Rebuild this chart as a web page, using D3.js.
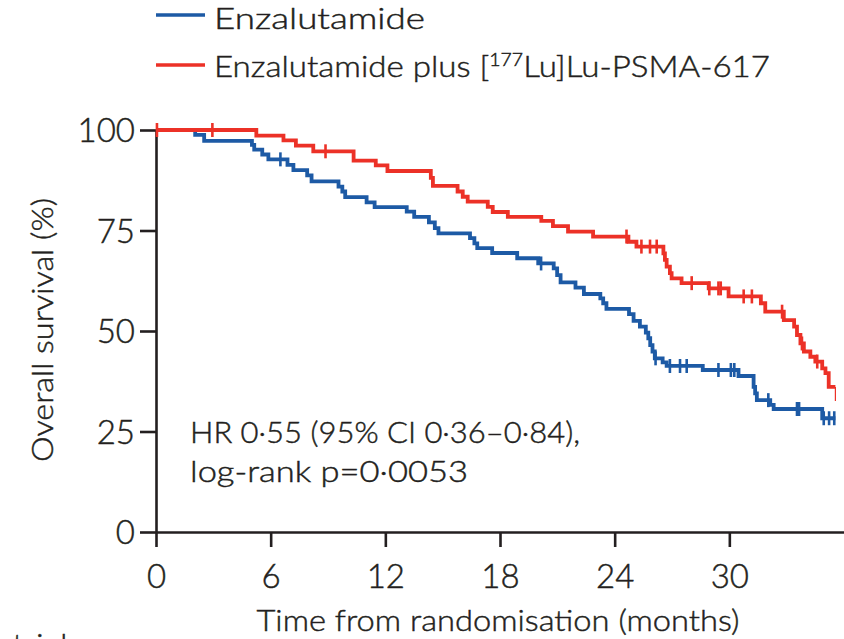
<!DOCTYPE html>
<html>
<head>
<meta charset="utf-8">
<script src="https://cdn.jsdelivr.net/npm/d3@7"></script>
<style>
  body { margin: 0; background: #fff; }
  svg { display: block; }
  text { font-family: Lato, "Open Sans", sans-serif; font-weight: 300; fill: #231f20;
         stroke: #231f20; stroke-width: 0.45px; }
</style>
</head>
<body>
<svg id="chart" width="844" height="639"></svg>
<script>
// Axis ticks
const monthTicks = [0, 6, 12, 18, 24, 30];
const survivalTicks = [0, 25, 50, 75, 100];

// Enzalutamide arm: event times (months) and Kaplan-Meier survival (%) after each event
const enzaMonths = [0, 2.05, 2.52, 5.02, 5.14, 5.56, 5.88, 6.88, 7.19, 7.91, 8.14, 9.55, 9.75, 9.9,
  11.02, 11.44, 13.12, 13.51, 14.28, 14.59, 14.78, 16.43, 16.66, 16.81, 17.59, 18.9, 20.0, 20.81,
  20.99, 21.17, 21.95, 22.39, 23.25, 23.4, 23.57, 24.75, 24.99, 25.32, 25.63, 25.76, 25.86, 25.98,
  26.1, 26.51, 26.72, 28.61, 30.48, 31.27, 31.35, 31.44, 32.14, 32.32, 34.86];
const enzaSurvival = [100, 98.8, 97.3, 96.3, 95.1, 93.9, 92.7, 91.3, 90.0, 88.7, 87.2, 85.9, 84.7, 83.3,
  82.0, 80.8, 79.7, 78.4, 77.0, 75.6, 74.3, 73.1, 71.8, 70.6, 69.4, 68.1, 66.8, 65.6,
  63.9, 62.1, 60.8, 59.2, 58.1, 56.9, 55.5, 54.2, 52.5, 51.1, 49.6, 48.2, 46.5, 44.9,
  43.2, 42.2, 41.3, 40.3, 38.8, 36.1, 34.5, 32.8, 31.6, 30.6, 28.3];
const enzaCensored = [6.51, 20.15, 26.14, 26.89, 27.42, 27.77, 29.43, 30.08, 30.26, 32.04, 33.54, 33.65,
  34.94, 35.22, 35.49];
const enzaFollowUpEnd = 35.55;

// Enzalutamide plus [177Lu]Lu-PSMA-617 arm
const comboMonths = [0, 5.25, 6.67, 7.32, 8.23, 10.34, 11.5, 12.11, 14.38, 14.49, 15.78, 16.05, 16.31,
  17.36, 17.62, 18.41, 20.16, 20.77, 21.56, 22.87, 24.72, 25.14, 26.55, 26.63, 26.72, 26.89, 26.98,
  27.5, 28.92, 29.96, 31.65, 31.88, 32.85, 33.39, 33.54, 33.72, 33.9, 34.24, 34.5, 34.86, 35.03,
  35.2, 35.55];
const comboSurvival = [100, 98.6, 97.4, 96.1, 94.7, 92.4, 91.2, 89.8, 88.1, 86.1, 84.7, 83.4, 82.2,
  80.9, 79.6, 78.4, 77.4, 76.1, 74.7, 73.5, 72.2, 71.0, 69.3, 67.7, 66.0, 64.4, 63.1,
  61.9, 60.6, 58.6, 56.9, 54.8, 52.7, 51.1, 49.0, 46.9, 44.9, 43.6, 42.4, 40.7, 39.5,
  36.1, 32.6];
const comboCensored = [0.05, 2.95, 8.87, 24.62, 25.4, 25.85, 26.2, 28.03, 28.95, 29.43, 29.55, 30.75,
  31.18, 32.76, 33.8, 34.6];

const colors = { enza: "#1d5aa5", combo: "#ec3127" };

const svg = d3.select("#chart");

const x = d3.scaleLinear().domain([0, 36]).range([156, 844]);
const y = d3.scaleLinear().domain([0, 100]).range([532, 130]);

// Axes
const axisColor = "#231f20";
const yAxis = svg.append("g")
  .attr("transform", `translate(${x(0)},0)`)
  .call(d3.axisLeft(y).tickValues(survivalTicks).tickSize(16).tickSizeOuter(0).tickPadding(5));
const xAxis = svg.append("g")
  .attr("transform", `translate(0,${y(0)})`)
  .call(d3.axisBottom(x).tickValues(monthTicks).tickSize(15).tickSizeOuter(0).tickPadding(15));

[yAxis, xAxis].forEach(g => {
  g.select(".domain").attr("stroke", axisColor).attr("stroke-width", 2.6);
  g.selectAll(".tick line").attr("stroke", axisColor).attr("stroke-width", 2.6);
  g.selectAll(".tick text").attr("font-size", 33).attr("font-family", "Lato, sans-serif")
    .attr("font-weight", 300).attr("fill", "#231f20");
});
yAxis.selectAll(".tick text").attr("dy", "0.36em");
xAxis.selectAll(".tick text").attr("dy", "0.8em");

// Axis titles
svg.append("text")
  .attr("x", 498).attr("y", 631)
  .attr("text-anchor", "middle")
  .attr("font-size", 30)
  .attr("textLength", 483).attr("lengthAdjust", "spacingAndGlyphs")
  .text("Time from randomisation (months)");

svg.append("text")
  .attr("transform", `translate(53,330) rotate(-90)`)
  .attr("text-anchor", "middle")
  .attr("font-size", 30)
  .attr("textLength", 264).attr("lengthAdjust", "spacingAndGlyphs")
  .text("Overall survival (%)");

// Kaplan-Meier curves
const stepLine = d3.line().curve(d3.curveStepAfter).x(d => x(d[0])).y(d => y(d[1]));

function survivalAt(times, surv, t) {
  let v = surv[0];
  for (let i = 0; i < times.length; i++) if (times[i] <= t) v = surv[i];
  return v;
}

function drawCensors(times, surv, censored, color) {
  svg.append("g").selectAll("line").data(censored).join("line")
    .attr("x1", d => x(d)).attr("x2", d => x(d))
    .attr("y1", d => y(survivalAt(times, surv, d)) - 7)
    .attr("y2", d => y(survivalAt(times, surv, d)) + 7)
    .attr("stroke", color).attr("stroke-width", 2.6);
}

// Enzalutamide alone
const enzaPts = enzaMonths.map((t, i) => [t, enzaSurvival[i]]);
enzaPts.push([enzaFollowUpEnd, enzaSurvival[enzaSurvival.length - 1]]);
svg.append("path").datum(enzaPts)
  .attr("d", stepLine).attr("fill", "none")
  .attr("stroke", colors.enza).attr("stroke-width", 3.8);
drawCensors(enzaMonths, enzaSurvival, enzaCensored, colors.enza);

// Combination arm; the final event is drawn as a thin drop
const n = comboMonths.length;
const comboPts = comboMonths.slice(0, n - 1).map((t, i) => [t, comboSurvival[i]]);
comboPts.push([comboMonths[n - 1], comboSurvival[n - 2]]);
svg.append("path").datum(comboPts)
  .attr("d", stepLine).attr("fill", "none")
  .attr("stroke", colors.combo).attr("stroke-width", 3.8);
svg.append("line")
  .attr("x1", x(comboMonths[n - 1])).attr("x2", x(comboMonths[n - 1]))
  .attr("y1", y(comboSurvival[n - 2])).attr("y2", y(comboSurvival[n - 1]))
  .attr("stroke", colors.combo).attr("stroke-width", 1.2);
drawCensors(comboMonths, comboSurvival, comboCensored, colors.combo);

// Legend
const legend = svg.append("g");
legend.append("line").attr("x1", 156).attr("x2", 205).attr("y1", 15).attr("y2", 15)
  .attr("stroke", colors.enza).attr("stroke-width", 3.6);
legend.append("text").attr("x", 214).attr("y", 29).attr("font-size", 29)
  .attr("textLength", 211).attr("lengthAdjust", "spacingAndGlyphs")
  .text("Enzalutamide");
legend.append("line").attr("x1", 156).attr("x2", 205).attr("y1", 65).attr("y2", 65)
  .attr("stroke", colors.combo).attr("stroke-width", 3.6);
const l2 = legend.append("text").attr("x", 214).attr("y", 77).attr("font-size", 29)
  .attr("textLength", 556).attr("lengthAdjust", "spacingAndGlyphs");
l2.append("tspan").text("Enzalutamide plus [");
l2.append("tspan").attr("font-size", 17).attr("dy", -11).text("177");
l2.append("tspan").attr("dy", 11).text("Lu]Lu-PSMA-617");

// Statistics annotation
svg.append("text").attr("x", 190).attr("y", 443).attr("font-size", 29)
  .attr("textLength", 390).attr("lengthAdjust", "spacingAndGlyphs")
  .text("HR 0·55 (95% CI 0·36–0·84),");
svg.append("text").attr("x", 190).attr("y", 482).attr("font-size", 29)
  .attr("textLength", 278).attr("lengthAdjust", "spacingAndGlyphs")
  .text("log-rank p=0·0053");

// Running page text at the lower edge
svg.append("text").attr("x", -4).attr("y", 658).attr("font-size", 34)
  .attr("font-weight", 700).attr("fill", "#111").attr("stroke", "none")
  .text("atrial");
</script>
</body>
</html>
